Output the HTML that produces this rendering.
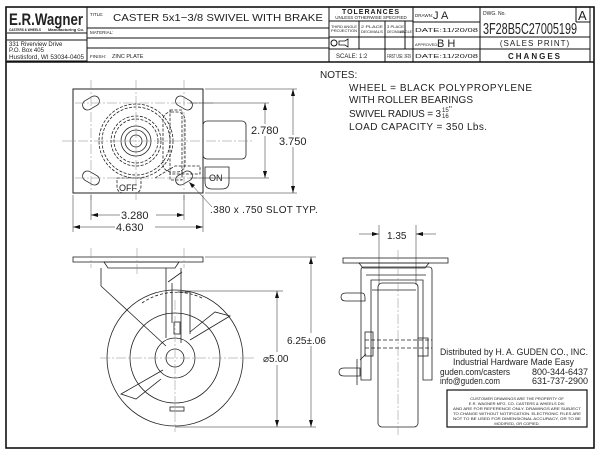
<!DOCTYPE html>
<html><head><meta charset="utf-8"><style>
html,body{margin:0;padding:0;background:#fff}
svg{display:block}
text{font-family:"Liberation Sans",sans-serif;fill:#222}
.n{font-family:"Liberation Sans Narrow","Liberation Sans",sans-serif}
</style></head><body>
<svg width="600" height="453" viewBox="0 0 600 453" xmlns="http://www.w3.org/2000/svg">
<g fill="none" stroke="#111" stroke-width="1">
<rect x="6" y="7" width="588" height="441" stroke-width="1.6"/>
<line x1="6" y1="62" x2="594" y2="62" stroke-width="1.6"/>
<line x1="87" y1="7" x2="87" y2="62"/>
<line x1="87" y1="28" x2="329" y2="28"/>
<line x1="87" y1="38" x2="329" y2="38"/>
<line x1="87" y1="48" x2="329" y2="48"/>
<line x1="329" y1="7" x2="329" y2="62"/>
<line x1="329" y1="21" x2="413" y2="21"/>
<line x1="329" y1="37" x2="413" y2="37"/>
<line x1="329" y1="49" x2="413" y2="49"/>
<line x1="359" y1="21" x2="359" y2="49"/>
<line x1="385" y1="21" x2="385" y2="62"/>
<line x1="413" y1="7" x2="413" y2="62"/>
<line x1="413" y1="22" x2="480" y2="22"/>
<line x1="413" y1="37" x2="590" y2="37"/>
<line x1="413" y1="49" x2="590" y2="49"/>
<line x1="480" y1="7" x2="480" y2="62"/>
<line x1="576" y1="7" x2="576" y2="22"/>
<line x1="576" y1="22" x2="590" y2="22"/>
<line x1="590" y1="7" x2="590" y2="62"/>
<line x1="7" y1="33" x2="87" y2="33"/>
<line x1="7" y1="40" x2="87" y2="40"/>
<line x1="7" y1="61" x2="87" y2="61"/>
</g>
<text x="9" y="25" font-family="Liberation Serif" font-size="17" font-weight="bold" textLength="74" lengthAdjust="spacingAndGlyphs">E.R.Wagner</text>
<text x="9" y="31" font-size="4" font-weight="bold" textLength="32" lengthAdjust="spacingAndGlyphs">CASTERS &amp; WHEELS</text>
<text x="48" y="31" font-size="4" font-weight="bold" textLength="36" lengthAdjust="spacingAndGlyphs">Manufacturing Co.</text>
<text x="9" y="46" font-family="Liberation Serif" font-size="6">331 Riverview Drive</text>
<text x="9" y="52" font-family="Liberation Serif" font-size="6">P.O. Box 405</text>
<text x="9" y="59" font-family="Liberation Serif" font-size="6" textLength="75" lengthAdjust="spacingAndGlyphs">Hustisford, WI 53034-0405</text>
<text x="90" y="16" font-size="4.5">TITLE:</text>
<text x="113" y="21" font-size="10.5" textLength="210" lengthAdjust="spacingAndGlyphs">CASTER  5x1−3/8  SWIVEL  WITH  BRAKE</text>
<text x="90" y="34" font-size="4.5">MATERIAL:</text>
<text x="90" y="58" font-size="4.5">FINISH:</text>
<text x="112" y="58" font-size="5.5">ZINC  PLATE</text>
<text x="371" y="14" font-size="7" font-weight="bold" text-anchor="middle" letter-spacing="1">TOLERANCES</text>
<text x="371" y="19" font-size="4.5" text-anchor="middle">UNLESS OTHERWISE SPECIFIED</text>
<text x="331" y="28" font-size="3.5" textLength="26" lengthAdjust="spacingAndGlyphs">THIRD ANGLE</text>
<text x="331" y="32" font-size="3.5" textLength="26" lengthAdjust="spacingAndGlyphs">PROJECTION</text>
<text x="361" y="28" font-size="4" textLength="22" lengthAdjust="spacingAndGlyphs">2 PLACE</text>
<text x="361" y="33" font-size="4" textLength="22" lengthAdjust="spacingAndGlyphs">DECIMALS</text>
<text x="387" y="28" font-size="4" textLength="17" lengthAdjust="spacingAndGlyphs">3 PLACE</text>
<text x="387" y="33" font-size="4" textLength="17" lengthAdjust="spacingAndGlyphs">DECIMALS</text>
<text x="412" y="33" font-size="3.5" text-anchor="end">ANGLE</text>
<line x1="405" y1="21" x2="405" y2="49" stroke="#111"/>
<circle cx="334" cy="43" r="3" fill="none" stroke="#111"/>
<path d="M339 41 h6 l3 -2 v8 l-3 -2 h-6z" fill="none" stroke="#111" stroke-width="0.8"/>
<text x="336" y="58" font-size="6">SCALE:  1:2</text>
<text x="387" y="58" font-size="5" textLength="24" lengthAdjust="spacingAndGlyphs">FIRST USE: 3F29</text>
<text x="415" y="17" font-size="4.5">DRAWN:</text>
<text x="433" y="19" font-size="11">J A</text>
<text x="415" y="32" font-size="5.5" textLength="63" lengthAdjust="spacingAndGlyphs">DATE:11/20/08</text>
<text x="415" y="46" font-size="4">APPROVED:</text>
<text x="437" y="47" font-size="11">B H</text>
<text x="415" y="58" font-size="5.5" textLength="63" lengthAdjust="spacingAndGlyphs">DATE:11/20/08</text>
<text x="483" y="15" font-size="5">DWG.  No.</text>
<text x="483" y="34" class="n" font-size="16" textLength="94" lengthAdjust="spacingAndGlyphs">3F28B5C27005199</text>
<text x="578" y="20" font-size="13">A</text>
<text x="535" y="46" font-size="8" text-anchor="middle" letter-spacing="1">(SALES  PRINT)</text>
<text x="535" y="59" font-size="8" font-weight="bold" text-anchor="middle" letter-spacing="2">CHANGES</text>

<!-- top view -->
<g fill="none" stroke="#222" stroke-width="0.8">
<rect x="73" y="89" width="130" height="104" stroke-width="1"/>
<rect x="203" y="121" width="43" height="38" rx="4"/>
<path d="M205 167 h24 v15 q0 7 -7 7 h-10 q-7 0 -7 -7z"/>
<path d="M117 178 h24 v8 q0 7 -7 7 h-10 q-7 0 -7 -7z" stroke-dasharray="3 1.5"/>
<g transform="translate(91,103) rotate(-30)"><rect x="-9" y="-5" width="18" height="10" rx="5"/></g>
<g transform="translate(184,103) rotate(30)"><rect x="-9" y="-5" width="18" height="10" rx="5"/></g>
<g transform="translate(91,178) rotate(30)"><rect x="-9" y="-5" width="18" height="10" rx="5"/></g>
<g transform="translate(184,178) rotate(-30)"><rect x="-9" y="-5" width="18" height="10" rx="5"/></g>
<g stroke-dasharray="3 1.5">
<circle cx="136" cy="141" r="37"/><circle cx="136" cy="141" r="34"/>
<circle cx="136" cy="141" r="25"/><circle cx="136" cy="141" r="22"/>
<rect x="163" y="112" width="22" height="60" rx="8"/>
<rect x="170" y="110" width="12" height="70"/>
<path d="M155 178 l20 -12 h25 v8 h-30"/>
</g>
<circle cx="136" cy="141" r="15"/><circle cx="136" cy="141" r="11"/><circle cx="136" cy="141" r="6"/>
<g stroke="#888" stroke-width="0.5" stroke-dasharray="10 2 2 2">
<line x1="62" y1="141" x2="252" y2="141"/><line x1="136" y1="80" x2="136" y2="200"/>
<line x1="75" y1="103" x2="215" y2="103"/><line x1="75" y1="178" x2="215" y2="178"/>
<line x1="91" y1="80" x2="91" y2="200"/><line x1="184" y1="80" x2="184" y2="200"/>
</g>
<g stroke-width="0.5">
<line x1="205" y1="89" x2="297" y2="89"/><line x1="205" y1="193" x2="297" y2="193"/>
<line x1="190" y1="103" x2="269" y2="103"/><line x1="190" y1="178" x2="269" y2="178"/>
<line x1="265" y1="103" x2="265" y2="178"/><line x1="293" y1="89" x2="293" y2="193"/>
<line x1="91" y1="195" x2="91" y2="220"/><line x1="184" y1="195" x2="184" y2="220"/>
<line x1="73" y1="195" x2="73" y2="232"/><line x1="203" y1="195" x2="203" y2="232"/>
<line x1="91" y1="215" x2="120" y2="215"/><line x1="156" y1="215" x2="184" y2="215"/>
<line x1="73" y1="227" x2="115" y2="227"/><line x1="155" y1="227" x2="203" y2="227"/>
<line x1="212" y1="207" x2="191" y2="184"/>
</g>
</g>
<g fill="#111">
<path d="M265 103 l-2 7 h4z M265 178 l-2 -7 h4z M293 89 l-2 7 h4z M293 193 l-2 -7 h4z"/>
<path d="M91 215 l7 -2 v4z M184 215 l-7 -2 v4z M73 227 l7 -2 v4z M203 227 l-7 -2 v4z M189 182 l3 6 l3 -3z"/>
</g>
<text x="209" y="181" font-size="9">ON</text>
<text x="119" y="191" font-size="9" fill="#555">OFF</text>
<rect x="251" y="124" width="28" height="12" fill="#fff"/>
<text x="251" y="134" font-size="11">2.780</text>
<rect x="279" y="135" width="28" height="12" fill="#fff"/>
<text x="279" y="145" font-size="11">3.750</text>
<text x="121" y="219" font-size="11">3.280</text>
<text x="116" y="231" font-size="11">4.630</text>
<text x="210" y="213" font-size="10" letter-spacing="0.3">.380  x  .750  SLOT  TYP.</text>
<text x="320" y="78" font-size="10">NOTES:</text>
<text x="349" y="91" font-size="10" textLength="183" lengthAdjust="spacing">WHEEL  =  BLACK  POLYPROPYLENE</text>
<text x="349" y="103" font-size="10" textLength="124" lengthAdjust="spacing">WITH  ROLLER  BEARINGS</text>
<text x="349" y="117" font-size="10" textLength="92" lengthAdjust="spacing">SWIVEL  RADIUS  =  3</text>
<text x="442" y="112" font-size="6">15</text><text x="442" y="118" font-size="6">16</text><text x="449" y="112" font-size="8">"</text>
<text x="349" y="130" font-size="10" letter-spacing="0.4">LOAD  CAPACITY  =  350  Lbs.</text>

<!-- side view -->
<g fill="none" stroke="#222" stroke-width="0.8">
<rect x="73" y="257" width="130" height="5"/>
<path d="M104 262 h75 l-4 6 h-67z"/>
<circle cx="175" cy="358" r="68"/>
<circle cx="175" cy="358" r="45"/>
<circle cx="175" cy="358" r="20"/>
<circle cx="175" cy="358" r="9"/>
<path d="M101 268 v18 l65 60 M166 268 v70 M181 268 v75 M168 282 l14 -10"/>
<path d="M178 292 h12 v42 M172 283 v40"/>
<rect x="174" y="322" width="6" height="12"/>
<path d="M190 340 l40 -24 l-15 -4 l-25 20"/>
<path d="M163 370 l-42 24 l15 5 l25 -20"/>
<path d="M142 303 a60 60 0 0 1 60 -5" stroke-dasharray="3 2"/>
<rect x="170" y="407" width="14" height="4"/>
<g stroke="#888" stroke-width="0.5" stroke-dasharray="10 2 2 2">
<line x1="100" y1="358" x2="255" y2="358"/><line x1="175" y1="300" x2="175" y2="432"/>
<line x1="137" y1="248" x2="137" y2="275"/><line x1="91" y1="248" x2="91" y2="268"/><line x1="184" y1="248" x2="184" y2="268"/>
</g>
<g stroke-width="0.5">
<line x1="205" y1="257" x2="316" y2="257"/><line x1="185" y1="291" x2="283" y2="291"/><line x1="175" y1="427" x2="316" y2="427"/>
<line x1="277" y1="291" x2="277" y2="427"/><line x1="311" y1="257" x2="311" y2="427"/>
</g>
</g>
<g fill="#111"><path d="M277 291 l-2 7 h4z M277 427 l-2 -7 h4z M311 257 l-2 7 h4z M311 427 l-2 -7 h4z"/></g>
<rect x="286" y="333" width="50" height="13" fill="#fff"/>
<text x="287" y="344" font-size="10">6.25±.06</text>
<rect x="261" y="352" width="34" height="13" fill="#fff"/>
<text x="263" y="362" font-size="10">⌀5.00</text>

<!-- front view -->
<g fill="none" stroke="#222" stroke-width="0.8">
<rect x="343" y="258" width="105" height="5"/>
<path d="M359 263 h70 l-4 5 h-62z"/>
<rect x="378" y="283" width="40" height="144" rx="4"/>
<path d="M361 270 v110 h10 v-100 h52 v100 h9 v-110 q0 -3 -3 -3 h-65 q-3 0 -3 3z"/>
<path d="M366 275 h60 M372 290 h44"/>
<rect x="365" y="332" width="8" height="24"/>
<rect x="418" y="338" width="10" height="18"/>
<path d="M346 293 h16 q3 0 3 5 v3 h-19 q-5 0 -5 -4 q0 -4 5 -4z"/>
<path d="M344 368 h16 v8 h-16 q-5 0 -5 -4 q0 -4 5 -4z"/>
<path d="M360 360 l6 -6 M357 385 v-26"/>
<g stroke-dasharray="4 2"><line x1="365" y1="340" x2="432" y2="340"/><line x1="365" y1="348" x2="432" y2="348"/></g>
<g stroke="#888" stroke-width="0.5" stroke-dasharray="10 2 2 2"><line x1="398" y1="250" x2="398" y2="435"/></g>
<g stroke-width="0.5">
<line x1="379" y1="225" x2="379" y2="285"/><line x1="416" y1="225" x2="416" y2="285"/>
<line x1="359" y1="234" x2="379" y2="234"/><line x1="416" y1="234" x2="436" y2="234"/>
</g>
</g>
<g fill="#111"><path d="M379 234 l-7 -2 v4z M416 234 l7 -2 v4z"/></g>
<text x="387" y="239" font-size="10">1.35</text>

<text x="440" y="355" font-size="9" textLength="148" lengthAdjust="spacingAndGlyphs">Distributed by   H. A. GUDEN CO., INC.</text>
<text x="453" y="365" font-size="9" textLength="121" lengthAdjust="spacingAndGlyphs">Industrial Hardware Made Easy</text>
<text x="440" y="375" font-size="9" textLength="70" lengthAdjust="spacingAndGlyphs">guden.com/casters</text>
<text x="588" y="375" font-size="9" text-anchor="end">800-344-6437</text>
<text x="440" y="384" font-size="9" textLength="60" lengthAdjust="spacingAndGlyphs">info@guden.com</text>
<text x="588" y="384" font-size="9" text-anchor="end">631-737-2900</text>
<rect x="447" y="390" width="140" height="37" fill="#fff" stroke="#111" stroke-width="1.2"/>
<g font-size="4" text-anchor="middle">
<text x="517" y="400">CUSTOMER DRAWINGS ARE THE PROPERTY OF</text>
<text x="517" y="405">E.R. WAGNER MFG. CO. CASTERS &amp; WHEELS DIV.</text>
<text x="517" y="410" textLength="128" lengthAdjust="spacingAndGlyphs">AND ARE FOR REFERENCE ONLY. DRAWINGS ARE SUBJECT</text>
<text x="517" y="415" textLength="128" lengthAdjust="spacingAndGlyphs">TO CHANGE WITHOUT NOTIFICATION. ELECTRONIC FILES ARE</text>
<text x="517" y="420" textLength="128" lengthAdjust="spacingAndGlyphs">NOT TO BE USED FOR DIMENSIONAL ACCURACY, OR TO BE</text>
<text x="517" y="425">MODIFIED, OR COPIED.</text>
</g>
</svg>
</body></html>
